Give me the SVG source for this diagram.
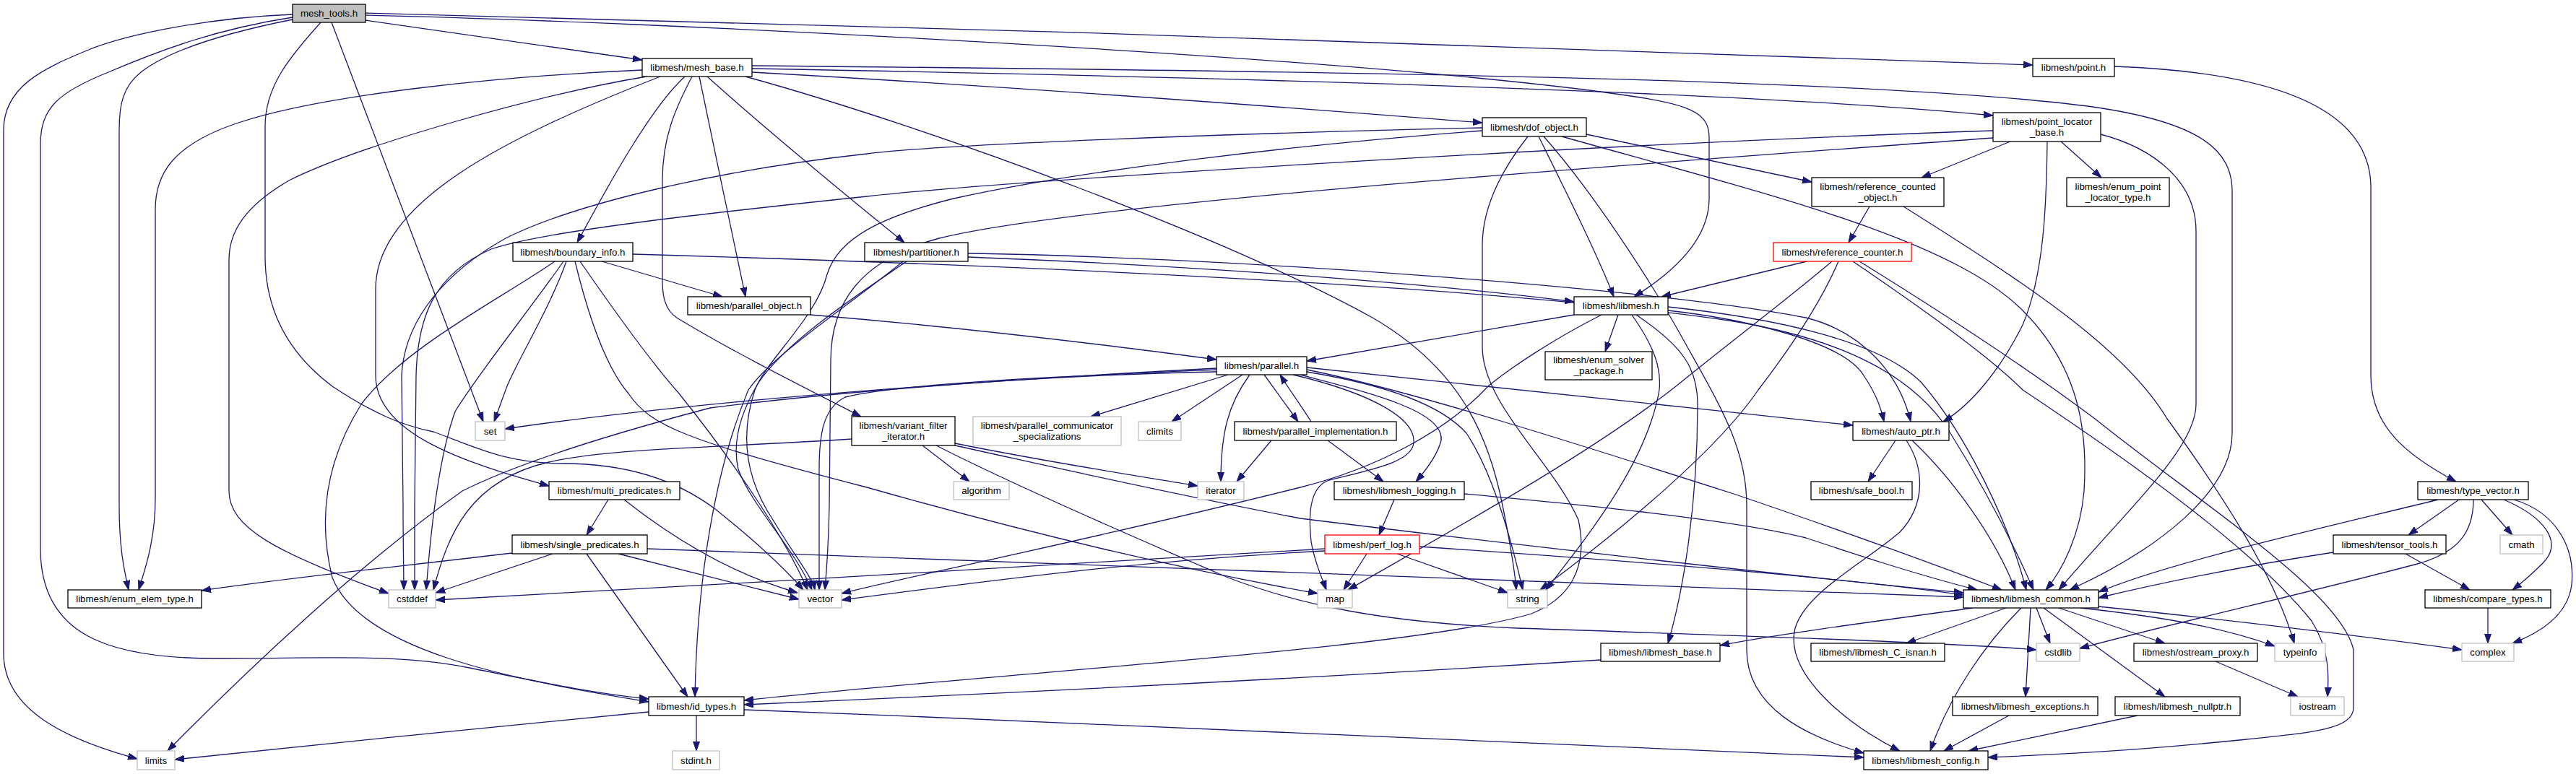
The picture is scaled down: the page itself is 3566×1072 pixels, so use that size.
<svg xmlns="http://www.w3.org/2000/svg" width="3566" height="1072" viewBox="0 0 3566 1072">
<style>
.nd rect{fill:#ffffff;stroke:#000000;stroke-width:1.3}
.nd.x rect{stroke:#bfbfbf}
.nd.r rect{stroke:#ff0000}
.nd.m rect{fill:#bfbfbf}
text{font-family:"Liberation Sans",Arial,Helvetica,sans-serif;font-size:13.3px;text-anchor:middle;fill:#000000}
</style>
<defs>
<marker id="ah" markerUnits="userSpaceOnUse" markerWidth="13" markerHeight="10" refX="13" refY="5" orient="auto" viewBox="0 0 13 10">
<path d="M0,0.5 L13,5 L0,9.5 z" fill="#191970" stroke="#191970" stroke-width="1"/>
</marker>
</defs>
<rect x="0" y="0" width="3566" height="1072" fill="#ffffff"/>
<g id="edges" fill="none" stroke="#191970" stroke-width="1.3" marker-end="url(#ah)">
<path d="M405,20 C300,24 180,45 120,70 C60,95 5,120 5,180 L5,905 C5,985 95,1025 190,1051"/>
<path d="M405,24 C300,40 220,70 150,100 C80,128 56,150 56,200 L56,760 C56,880 150,912 300,912 C450,912 550,905 650,925 C750,945 820,960 898,968"/>
<path d="M405,27 C330,42 240,65 195,100 C170,120 165,145 165,180 L165,700 C165,760 172,790 178,817"/>
<path d="M444,31 C400,80 367,120 367,175 L367,355 C367,430 400,490 460,535 C520,575 560,590 600,598 C660,620 700,642 780,642 C860,642 930,660 990,705 C1040,745 1080,780 1112,817"/>
<path d="M459,31 L669,584"/>
<path d="M506,28 L889,83"/>
<path d="M506,18 C1200,33 2400,74 2814,90"/>
<path d="M506,21 C900,30 1800,75 2200,125 C2330,142 2366,150 2366,190 L2366,275 C2366,330 2320,375 2262,411"/>
<path d="M889,97 C700,105 450,130 330,170 C240,200 215,240 215,290 L215,690 C215,750 200,790 192,817"/>
<path d="M895,106 C750,130 500,200 400,250 C340,285 317,320 317,360 L317,680 C317,730 380,765 538,822"/>
<path d="M914,106 C700,190 520,280 520,400 L520,520 C520,600 640,640 760,673"/>
<path d="M948,106 C900,150 840,260 799,336"/>
<path d="M958,106 C935,150 917,190 917,250 L917,390 C917,420 925,435 945,445 C1020,490 1120,540 1192,577"/>
<path d="M968,106 C985,190 1015,330 1032,411"/>
<path d="M979,106 C1050,170 1170,270 1252,336"/>
<path d="M1032,106 C1300,180 1700,330 1900,440 C2020,510 2060,600 2080,700 C2092,760 2097,790 2099,817"/>
<path d="M1041,100 C1400,120 1800,150 2052,170"/>
<path d="M1041,95 C1600,105 2400,125 2759,160"/>
<path d="M1041,91 C1800,98 2600,108 2897,148 C3050,170 3090,210 3090,265 L3090,600 C3090,680 2990,760 2865,817"/>
<path d="M2927,92 C3150,100 3282,150 3282,260 L3282,520 C3282,590 3330,630 3400,667"/>
<path d="M2196,186 L2508,252"/>
<path d="M2130,189 C2170,270 2210,350 2234,411"/>
<path d="M2137,189 C2200,260 2280,380 2330,470 C2380,560 2418,620 2418,700 L2418,900 C2418,980 2500,1020 2580,1043"/>
<path d="M2162,189 C2450,270 2700,330 2800,430 C2880,510 2890,600 2885,680 C2880,740 2855,790 2832,817"/>
<path d="M2115,189 C2075,240 2052,290 2052,340 L2052,480 C2052,560 2150,640 2185,720 C2200,790 2170,830 2120,850 C1950,900 1400,930 1030,970"/>
<path d="M2052,177 C1700,185 1300,200 1200,213 C1000,235 800,280 700,330 C620,375 560,440 556,520 L558,700 C558,760 559,790 559,817"/>
<path d="M2052,181 C1800,200 1500,235 1320,275 C1220,300 1160,330 1145,380 C1130,440 1060,500 1045,540 C1025,600 1030,660 1070,720 C1100,770 1125,800 1128,817"/>
<path d="M2783,196 L2660,246"/>
<path d="M2853,196 L2909,246"/>
<path d="M2834,196 C2833,280 2830,380 2800,450 C2770,510 2730,560 2690,584"/>
<path d="M2908,186 C2980,205 3040,250 3040,320 L3040,560 C3040,620 2950,700 2850,817"/>
<path d="M2759,181 C2200,200 1400,250 1200,272 C1000,293 750,320 680,345 C600,380 578,440 576,520 L574,700 C574,760 574,790 574,817"/>
<path d="M2759,191 C2300,225 1500,280 1300,330 C1190,360 1150,420 1150,500 L1148,700 C1147,760 1144,790 1142,817"/>
<path d="M2588,286 L2559,336"/>
<path d="M2635,286 C2800,390 2940,480 3000,580 C3080,690 3150,800 3176,891"/>
<path d="M2501,362 L2300,411"/>
<path d="M2536,362 C2480,410 2400,470 2320,535 C2200,630 2000,740 1866,817"/>
<path d="M2545,362 C2520,420 2480,480 2434,540 C2380,620 2250,730 2132,817"/>
<path d="M2565,362 C2650,420 2750,490 2800,540 C2950,640 3120,760 3200,860 C3225,900 3224,935 3222,965"/>
<path d="M2574,362 C2700,440 2820,520 2900,580 C3050,700 3240,820 3258,900 L3258,980 C3258,1010 3200,1015 3100,1025 C2950,1040 2850,1045 2752,1049"/>
<path d="M2179,436 L1809,500"/>
<path d="M2240,436 L2222,487"/>
<path d="M2217,436 C2150,470 2090,510 2060,535 C2000,600 1900,650 1800,675 C1500,750 1250,800 1165,822"/>
<path d="M2259,436 C2290,480 2300,510 2297,540 C2280,640 2200,740 2140,817"/>
<path d="M2265,436 C2330,480 2350,510 2350,560 C2350,700 2330,820 2309,891"/>
<path d="M2309,430 C2400,440 2550,470 2580,520 C2600,550 2605,570 2608,584"/>
<path d="M2309,425 C2450,440 2600,470 2660,530 C2720,600 2780,720 2805,817"/>
<path d="M1122,436 C1350,455 1550,480 1684,498"/>
<path d="M1340,356 C1700,370 2000,395 2179,418"/>
<path d="M1340,351 C1700,356 2300,400 2500,440 C2580,460 2630,520 2645,584"/>
<path d="M1255,362 C1200,400 1090,470 1050,530 C1020,580 1015,620 1022,650 C1040,700 1100,760 1124,817"/>
<path d="M1250,362 C1180,420 1070,490 1036,540 C990,650 965,800 962,965"/>
<path d="M833,362 L1000,411"/>
<path d="M803,362 C850,430 900,500 940,545 C1000,620 1080,730 1118,817"/>
<path d="M796,362 C815,440 840,510 870,545 C900,590 950,610 1200,675 C1500,760 1700,800 1824,822"/>
<path d="M784,362 C760,430 710,510 700,540 L684,584"/>
<path d="M780,362 C740,420 660,520 630,570 C605,640 595,750 590,817"/>
<path d="M768,362 C700,410 560,480 500,560 C450,640 440,720 460,800 C500,900 700,940 898,972"/>
<path d="M876,352 C1500,370 2100,400 2400,445 C2550,470 2650,520 2700,600 C2750,680 2790,760 2815,817"/>
<path d="M1790,519 C1900,545 1960,580 1957,613 C1955,640 1900,650 1840,665 C1810,675 1812,720 1815,750 C1820,780 1830,800 1836,817"/>
<path d="M1800,519 C1900,545 2000,570 1995,610 C1990,630 1975,650 1960,667"/>
<path d="M1809,515 C1900,530 1990,555 2030,600 C2070,660 2095,760 2108,817"/>
<path d="M1809,512 C1950,540 2200,620 2400,684 C2550,735 2700,790 2771,817"/>
<path d="M1809,509 C2000,530 2300,560 2565,589"/>
<path d="M1700,519 L1510,577"/>
<path d="M1720,519 L1622,584"/>
<path d="M1730,519 C1700,560 1690,600 1690,667"/>
<path d="M1750,519 L1797,584"/>
<path d="M1815,584 C1800,560 1785,540 1772,519"/>
<path d="M1684,510 C1400,525 1000,550 699,594"/>
<path d="M1684,512 C1500,520 1250,530 1170,550 C1140,565 1134,600 1134,650 L1134,817"/>
<path d="M1684,515 C1400,520 1100,550 983,565 C850,600 720,640 640,680 C500,780 350,920 232,1040"/>
<path d="M1760,610 L1712,667"/>
<path d="M1838,610 L1915,667"/>
<path d="M1277,617 L1342,667"/>
<path d="M1322,614 C1450,640 1580,660 1658,673"/>
<path d="M1322,617 C1450,645 1600,680 1800,718 C2100,755 2500,800 2718,821"/>
<path d="M1296,617 C1400,670 1560,740 1700,800 C1800,838 1915,862 2100,870 C2400,880 2700,890 2819,900"/>
<path d="M1179,608 C1000,620 850,620 760,640 C650,665 620,740 600,817"/>
<path d="M2624,610 L2586,667"/>
<path d="M2647,610 C2700,660 2760,740 2790,817"/>
<path d="M2639,610 C2665,650 2665,700 2630,737 C2580,780 2500,820 2485,870 C2470,930 2550,1000 2630,1040"/>
<path d="M842,692 L812,741"/>
<path d="M864,692 C950,760 1030,800 1104,821"/>
<path d="M709,766 C550,785 400,800 279,818"/>
<path d="M765,767 L603,821"/>
<path d="M856,767 L1106,830"/>
<path d="M812,767 L952,965"/>
<path d="M896,760 C1300,770 2000,795 2718,827"/>
<path d="M1930,692 L1909,741"/>
<path d="M2027,684 C2200,700 2400,720 2500,745 C2560,765 2650,795 2737,817"/>
<path d="M1892,767 L1860,817"/>
<path d="M1934,767 L2087,821"/>
<path d="M1834,760 C1500,780 1000,810 603,831"/>
<path d="M1834,763 C1600,775 1400,800 1165,831"/>
<path d="M1965,757 C2300,780 2550,800 2718,824"/>
<path d="M3404,692 L3334,741"/>
<path d="M3435,692 L3478,741"/>
<path d="M3466,692 C3520,715 3550,750 3520,780 C3505,795 3490,808 3478,817"/>
<path d="M3480,692 C3540,710 3565,760 3560,810 C3555,850 3520,875 3478,891"/>
<path d="M3375,692 C3200,735 3000,780 2905,820"/>
<path d="M3424,692 C3424,740 3400,765 3350,780 C3200,820 3000,865 2879,898"/>
<path d="M3330,767 L3419,817"/>
<path d="M3230,765 C3100,785 2980,810 2905,828"/>
<path d="M3444,842 L3444,891"/>
<path d="M2731,842 C2600,860 2450,880 2381,894"/>
<path d="M2777,842 L2639,891"/>
<path d="M2798,842 C2750,890 2700,960 2672,1040"/>
<path d="M2811,842 L2804,965"/>
<path d="M2819,842 L2838,891"/>
<path d="M2829,842 L2997,965"/>
<path d="M2850,842 L2997,891"/>
<path d="M2880,842 C3000,855 3080,870 3149,895"/>
<path d="M2905,840 C3100,860 3300,885 3408,900"/>
<path d="M2216,914 C1800,940 1400,960 1030,976"/>
<path d="M964,991 L964,1040"/>
<path d="M898,986 C700,1005 450,1030 242,1052"/>
<path d="M1030,983 C1600,1005 2200,1030 2580,1049"/>
<path d="M3067,916 L3181,965"/>
<path d="M2781,991 L2691,1040"/>
<path d="M2959,991 L2725,1040"/>
</g>
<g id="mesh_tools" class="nd m"><rect x="405" y="6" width="101" height="25"/><text x="455.5" y="23">mesh_tools.h</text></g>
<g id="mesh_base" class="nd"><rect x="889" y="81" width="152" height="25"/><text x="965" y="98">libmesh/mesh_base.h</text></g>
<g id="point" class="nd"><rect x="2814" y="81" width="113" height="25"/><text x="2870.5" y="98">libmesh/point.h</text></g>
<g id="dof_object" class="nd"><rect x="2052" y="163" width="144" height="26"/><text x="2124" y="180.5">libmesh/dof_object.h</text></g>
<g id="point_locator_base" class="nd"><rect x="2759" y="156" width="149" height="40"/><text x="2833.5" y="172.5">libmesh/point_locator</text><text x="2833.5" y="187.5">_base.h</text></g>
<g id="reference_counted_object" class="nd"><rect x="2508" y="246" width="183" height="40"/><text x="2599.5" y="262.5">libmesh/reference_counted</text><text x="2599.5" y="277.5">_object.h</text></g>
<g id="enum_point_locator_type" class="nd"><rect x="2861" y="246" width="142" height="40"/><text x="2932" y="262.5">libmesh/enum_point</text><text x="2932" y="277.5">_locator_type.h</text></g>
<g id="boundary_info" class="nd"><rect x="710" y="336" width="166" height="26"/><text x="793" y="353.5">libmesh/boundary_info.h</text></g>
<g id="partitioner" class="nd"><rect x="1197" y="336" width="143" height="26"/><text x="1268.5" y="353.5">libmesh/partitioner.h</text></g>
<g id="reference_counter" class="nd r"><rect x="2455" y="336" width="191" height="26"/><text x="2550.5" y="353.5">libmesh/reference_counter.h</text></g>
<g id="parallel_object" class="nd"><rect x="952" y="411" width="170" height="25"/><text x="1037" y="428">libmesh/parallel_object.h</text></g>
<g id="libmesh" class="nd"><rect x="2179" y="411" width="130" height="25"/><text x="2244" y="428">libmesh/libmesh.h</text></g>
<g id="parallel" class="nd"><rect x="1684" y="494" width="125" height="25"/><text x="1746.5" y="511">libmesh/parallel.h</text></g>
<g id="enum_solver_package" class="nd"><rect x="2139" y="487" width="148" height="39"/><text x="2213" y="503">libmesh/enum_solver</text><text x="2213" y="518">_package.h</text></g>
<g id="set" class="nd x"><rect x="658" y="584" width="41" height="26"/><text x="678.5" y="601.5">set</text></g>
<g id="variant_filter_iterator" class="nd"><rect x="1179" y="577" width="143" height="40"/><text x="1250.5" y="593.5">libmesh/variant_filter</text><text x="1250.5" y="608.5">_iterator.h</text></g>
<g id="parallel_communicator_specializations" class="nd x"><rect x="1347" y="577" width="205" height="40"/><text x="1449.5" y="593.5">libmesh/parallel_communicator</text><text x="1449.5" y="608.5">_specializations</text></g>
<g id="climits" class="nd x"><rect x="1576" y="584" width="59" height="26"/><text x="1605.5" y="601.5">climits</text></g>
<g id="parallel_implementation" class="nd"><rect x="1709" y="584" width="224" height="26"/><text x="1821" y="601.5">libmesh/parallel_implementation.h</text></g>
<g id="auto_ptr" class="nd"><rect x="2565" y="584" width="133" height="26"/><text x="2631.5" y="601.5">libmesh/auto_ptr.h</text></g>
<g id="multi_predicates" class="nd"><rect x="760" y="667" width="181" height="25"/><text x="850.5" y="684">libmesh/multi_predicates.h</text></g>
<g id="algorithm" class="nd x"><rect x="1320" y="667" width="77" height="25"/><text x="1358.5" y="684">algorithm</text></g>
<g id="iterator" class="nd x"><rect x="1658" y="667" width="64" height="25"/><text x="1690" y="684">iterator</text></g>
<g id="libmesh_logging" class="nd"><rect x="1847" y="667" width="180" height="25"/><text x="1937" y="684">libmesh/libmesh_logging.h</text></g>
<g id="safe_bool" class="nd"><rect x="2507" y="667" width="140" height="25"/><text x="2577" y="684">libmesh/safe_bool.h</text></g>
<g id="type_vector" class="nd"><rect x="3347" y="667" width="153" height="25"/><text x="3423.5" y="684">libmesh/type_vector.h</text></g>
<g id="single_predicates" class="nd"><rect x="709" y="741" width="187" height="26"/><text x="802.5" y="758.5">libmesh/single_predicates.h</text></g>
<g id="perf_log" class="nd r"><rect x="1834" y="741" width="131" height="26"/><text x="1899.5" y="758.5">libmesh/perf_log.h</text></g>
<g id="tensor_tools" class="nd"><rect x="3230" y="741" width="156" height="26"/><text x="3308" y="758.5">libmesh/tensor_tools.h</text></g>
<g id="cmath" class="nd x"><rect x="3461" y="741" width="59" height="26"/><text x="3490.5" y="758.5">cmath</text></g>
<g id="enum_elem_type" class="nd"><rect x="94" y="817" width="185" height="25"/><text x="186.5" y="834">libmesh/enum_elem_type.h</text></g>
<g id="cstddef" class="nd x"><rect x="538" y="817" width="65" height="25"/><text x="570.5" y="834">cstddef</text></g>
<g id="vector" class="nd x"><rect x="1106" y="817" width="59" height="25"/><text x="1135.5" y="834">vector</text></g>
<g id="map" class="nd x"><rect x="1824" y="817" width="48" height="25"/><text x="1848" y="834">map</text></g>
<g id="string" class="nd x"><rect x="2087" y="817" width="55" height="25"/><text x="2114.5" y="834">string</text></g>
<g id="libmesh_common" class="nd"><rect x="2718" y="817" width="187" height="25"/><text x="2811.5" y="834">libmesh/libmesh_common.h</text></g>
<g id="compare_types" class="nd"><rect x="3357" y="817" width="174" height="25"/><text x="3444" y="834">libmesh/compare_types.h</text></g>
<g id="libmesh_base" class="nd"><rect x="2216" y="891" width="165" height="25"/><text x="2298.5" y="908">libmesh/libmesh_base.h</text></g>
<g id="libmesh_C_isnan" class="nd"><rect x="2507" y="891" width="185" height="25"/><text x="2599.5" y="908">libmesh/libmesh_C_isnan.h</text></g>
<g id="cstdlib" class="nd x"><rect x="2819" y="891" width="60" height="25"/><text x="2849" y="908">cstdlib</text></g>
<g id="ostream_proxy" class="nd"><rect x="2954" y="891" width="171" height="25"/><text x="3039.5" y="908">libmesh/ostream_proxy.h</text></g>
<g id="typeinfo" class="nd x"><rect x="3149" y="891" width="70" height="25"/><text x="3184" y="908">typeinfo</text></g>
<g id="complex" class="nd x"><rect x="3408" y="891" width="72" height="25"/><text x="3444" y="908">complex</text></g>
<g id="id_types" class="nd"><rect x="898" y="965" width="132" height="26"/><text x="964" y="982.5">libmesh/id_types.h</text></g>
<g id="libmesh_exceptions" class="nd"><rect x="2703" y="965" width="201" height="26"/><text x="2803.5" y="982.5">libmesh/libmesh_exceptions.h</text></g>
<g id="libmesh_nullptr" class="nd"><rect x="2928" y="965" width="173" height="26"/><text x="3014.5" y="982.5">libmesh/libmesh_nullptr.h</text></g>
<g id="iostream" class="nd x"><rect x="3171" y="965" width="74" height="26"/><text x="3208" y="982.5">iostream</text></g>
<g id="limits" class="nd x"><rect x="190" y="1040" width="52" height="26"/><text x="216" y="1057.5">limits</text></g>
<g id="stdint" class="nd x"><rect x="931" y="1040" width="65" height="26"/><text x="963.5" y="1057.5">stdint.h</text></g>
<g id="libmesh_config" class="nd"><rect x="2580" y="1040" width="172" height="26"/><text x="2666" y="1057.5">libmesh/libmesh_config.h</text></g>
</svg>
